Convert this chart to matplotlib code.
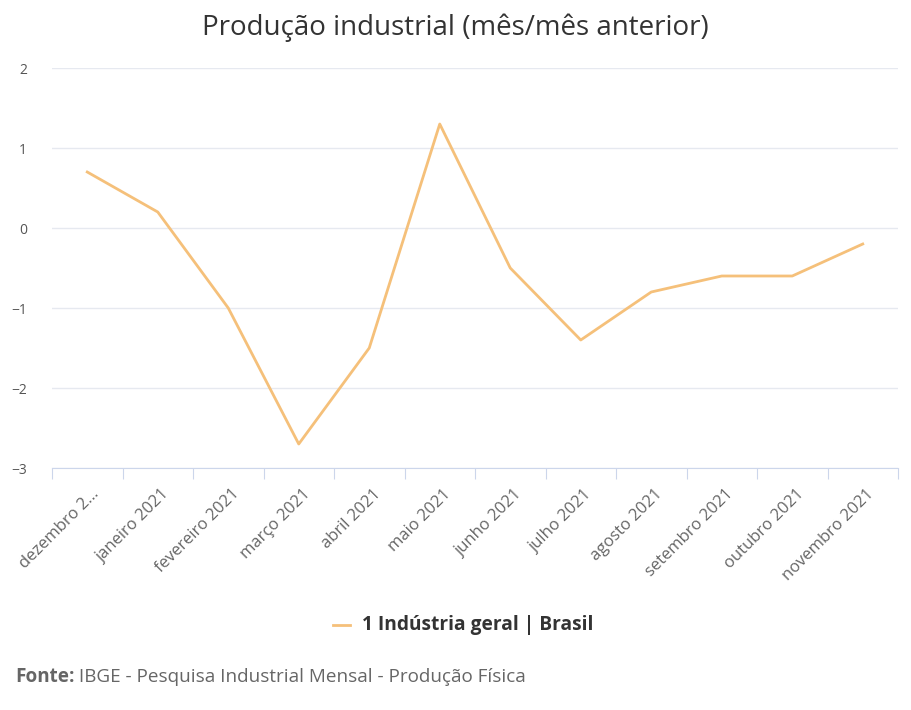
import matplotlib
matplotlib.use("Agg")
import matplotlib.pyplot as plt

categories = ["dezembro 2…", "janeiro 2021", "fevereiro 2021", "março 2021", "abril 2021",
              "maio 2021", "junho 2021", "julho 2021", "agosto 2021", "setembro 2021",
              "outubro 2021", "novembro 2021"]
values = [0.7, 0.2, -1.0, -2.7, -1.5, 1.3, -0.5, -1.4, -0.8, -0.6, -0.6, -0.2]
yticks = [-3, -2, -1, 0, 1, 2]
series_name = "1 Indústria geral | Brasil"
title = "Produção industrial (mês/mês anterior)"
source_bold = "Fonte:"
source_rest = " IBGE - Pesquisa Industrial Mensal - Produção Física"

plt.rcParams['font.family'] = ['Open Sans', 'DejaVu Sans']

fig = plt.figure(figsize=(9.11, 7.10), dpi=100)
ax = fig.add_axes([52/911, 1-468/710, (898-52)/911, 400/710])

x = list(range(len(categories)))
line_color = "#f5c07a"
ax.plot(x, values, color=line_color, lw=2)

ax.set_xlim(-0.5, len(categories)-0.5)
ax.set_ylim(-3, 2)
ax.set_yticks(yticks)
ax.set_yticklabels([str(v).replace("-", "−") for v in yticks], color="#555555", fontsize=10)
ax.grid(axis='y', color="#e6e9f0", lw=1)
ax.set_axisbelow(True)
for s in ["top", "right", "left"]:
    ax.spines[s].set_visible(False)
ax.spines["bottom"].set_color("#ccd6eb")
ax.tick_params(axis='y', length=0, pad=18)

ax.set_xticks([i - 0.5 for i in range(len(categories)+1)], minor=False)
ax.set_xticklabels([])
ax.tick_params(axis='x', length=8, color="#ccd6eb", direction='out')
for i, c in enumerate(categories):
    ax.annotate(c, xy=(i + 0.05, 0), xycoords=('data', 'axes fraction'),
                xytext=(0, -13), textcoords='offset points',
                rotation=45, ha='right', va='top', rotation_mode='anchor',
                fontsize=12, color="#666666")

fig.text(0.5, 1-28/710, title, ha='center', va='center', fontsize=20, color="#333333")

# legend
ly = 625
fig.lines.append(matplotlib.lines.Line2D([333/911, 350/911], [1-ly/710, 1-ly/710],
                                         color=line_color, lw=2, transform=fig.transFigure))
fig.text(362/911, 1-ly/710, series_name, ha='left', va='center', fontsize=13.8,
         fontweight='bold', color="#333333")

t = fig.text(15/911, 1-677/710, source_bold, ha='left', va='center', fontsize=13.6,
             fontweight='bold', color="#666666")
fig.canvas.draw()
bb = t.get_window_extent()
fig.text(bb.x1/911, 1-677/710, source_rest, ha='left', va='center', fontsize=13.6, color="#666666")

fig.savefig("out.png", dpi=100)
